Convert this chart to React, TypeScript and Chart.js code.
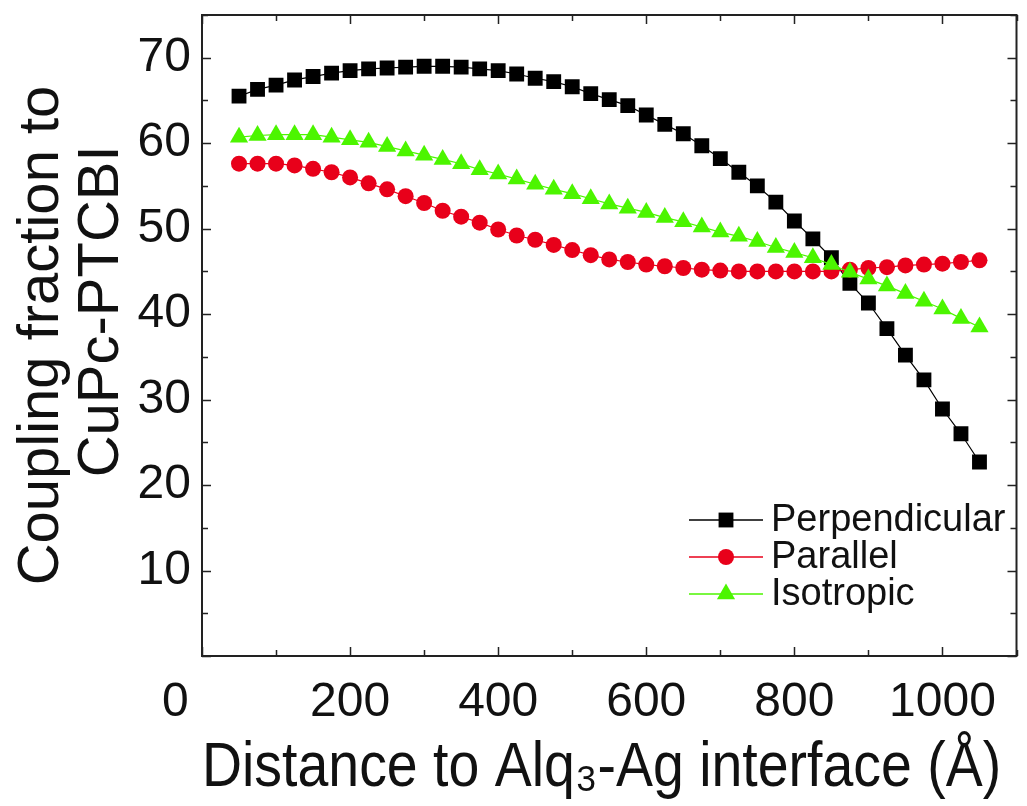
import { useEffect, useRef } from 'react';
import { Chart, registerables } from 'chart.js';

Chart.register(...registerables);

const FONT = "'Liberation Sans', Arial, Helvetica, sans-serif";

// Distance to Alq3-Ag interface (Å)
const distance = [
  50, 75, 100, 125, 150, 175, 200, 225, 250, 275,
  300, 325, 350, 375, 400, 425, 450, 475, 500, 525,
  550, 575, 600, 625, 650, 675, 700, 725, 750, 775,
  800, 825, 850, 875, 900, 925, 950, 975, 1000, 1025,
  1050,
];

const perpendicular = [
  65.5, 66.3, 66.8, 67.4, 67.8, 68.2, 68.5, 68.7, 68.8, 68.9,
  69.0, 69.0, 68.9, 68.7, 68.5, 68.1, 67.6, 67.2, 66.6, 65.8,
  65.1, 64.4, 63.3, 62.2, 61.1, 59.7, 58.2, 56.6, 55.0, 53.1,
  50.9, 48.8, 46.6, 43.6, 41.3, 38.3, 35.2, 32.3, 28.9, 26.0,
  22.7,
];

const parallel = [
  57.6, 57.6, 57.6, 57.4, 57.0, 56.6, 56.0, 55.3, 54.6, 53.8,
  53.0, 52.1, 51.4, 50.7, 49.9, 49.2, 48.7, 48.1, 47.5, 46.9,
  46.4, 46.1, 45.8, 45.6, 45.4, 45.2, 45.1, 45.0, 45.0, 45.0,
  45.0, 45.0, 45.0, 45.2, 45.4, 45.5, 45.7, 45.8, 45.9, 46.1,
  46.3,
];

const isotropic = [
  60.7, 60.9, 61.0, 61.0, 61.0, 60.7, 60.4, 60.1, 59.6, 59.1,
  58.6, 58.1, 57.6, 56.9, 56.4, 55.8, 55.2, 54.6, 54.1, 53.5,
  52.9, 52.4, 51.9, 51.3, 50.8, 50.2, 49.6, 49.1, 48.5, 47.8,
  47.2, 46.6, 45.8, 44.9, 44.1, 43.3, 42.4, 41.5, 40.6, 39.5,
  38.5,
];

const seriesNames = ['Perpendicular', 'Parallel', 'Isotropic'];
const seriesColors = ['#000000', '#e8001a', '#4cf500'];
const seriesShapes = ['rect', 'circle', 'triangle'];
const seriesRadius = [10.5, 8, 10.5];

const X_MIN = 0;
const X_MAX = 1100;
const X_MAJOR = 200;
const X_MINOR = 100;
const Y_MIN = 0;
const Y_MAX = 75;
const Y_MAJOR = 10;
const Y_MINOR = 5;

function drawMarker(ctx: CanvasRenderingContext2D, shape: string, x: number, y: number, r: number, color: string) {
  ctx.save();
  ctx.fillStyle = color;
  ctx.beginPath();
  if (shape === 'rect') {
    const s = Math.SQRT1_2 * r;
    ctx.rect(x - s, y - s, 2 * s, 2 * s);
  } else if (shape === 'circle') {
    ctx.arc(x, y, r, 0, Math.PI * 2);
  } else {
    const a = (2 * Math.PI) / 3;
    ctx.moveTo(x, y - r);
    ctx.lineTo(x + Math.sin(a) * r, y - Math.cos(a) * r);
    ctx.lineTo(x + Math.sin(2 * a) * r, y - Math.cos(2 * a) * r);
    ctx.closePath();
  }
  ctx.fill();
  ctx.restore();
}

const framePlugin = {
  id: 'frameTicks',
  afterDraw(chart: any) {
    const ctx = chart.ctx as CanvasRenderingContext2D;
    const { left, right, top, bottom } = chart.chartArea;
    const xs = chart.scales.x;
    const ys = chart.scales.y;
    ctx.save();
    ctx.strokeStyle = '#222';
    ctx.lineWidth = 2;
    ctx.strokeRect(left, top, right - left, bottom - top);
    ctx.lineWidth = 1.5;
    ctx.beginPath();
    for (let v = X_MIN; v <= X_MAX; v += X_MINOR) {
      const px = Math.round(xs.getPixelForValue(v)) + 0.5;
      const len = v % X_MAJOR === 0 ? 9 : 6;
      ctx.moveTo(px, bottom);
      ctx.lineTo(px, bottom - len);
      ctx.moveTo(px, top);
      ctx.lineTo(px, top + len);
    }
    for (let v = Y_MIN; v <= Y_MAX; v += Y_MINOR) {
      const py = Math.round(ys.getPixelForValue(v)) + 0.5;
      const len = v % Y_MAJOR === 0 ? 9 : 6;
      ctx.moveTo(left, py);
      ctx.lineTo(left + len, py);
      ctx.moveTo(right, py);
      ctx.lineTo(right - len, py);
    }
    ctx.stroke();

    // legend
    const rowsFromBottom = [136, 99, 62];
    ctx.font = `38px ${FONT}`;
    ctx.textBaseline = 'middle';
    ctx.textAlign = 'left';
    chart.data.datasets.forEach((ds: any, i: number) => {
      const y = bottom - rowsFromBottom[i];
      const x0 = left + 487;
      const x1 = left + 561;
      ctx.strokeStyle = seriesColors[i];
      ctx.lineWidth = 1.5;
      ctx.beginPath();
      ctx.moveTo(x0, y);
      ctx.lineTo(x1, y);
      ctx.stroke();
      drawMarker(ctx, seriesShapes[i], (x0 + x1) / 2, y, seriesRadius[i], seriesColors[i]);
      ctx.fillStyle = '#111';
      ctx.fillText(ds.label, x1 + 8, y + 1);
    });
    ctx.restore();
  },
};

export default function App() {
  const canvasRef = useRef<HTMLCanvasElement | null>(null);

  useEffect(() => {
    if (!canvasRef.current) return;
    const seriesValues = [perpendicular, parallel, isotropic];
    const chart = new Chart(canvasRef.current, {
      type: 'line',
      data: {
        datasets: seriesValues.map((vals, i) => ({
          label: seriesNames[i],
          data: distance.map((x, j) => ({ x, y: vals[j] })),
          borderColor: seriesColors[i],
          backgroundColor: seriesColors[i],
          borderWidth: 1.2,
          pointStyle: seriesShapes[i] as any,
          pointRadius: seriesRadius[i],
          pointBorderWidth: 0,
          pointBackgroundColor: seriesColors[i],
          tension: 0,
          order: 2 - i,
        })),
      },
      plugins: [framePlugin],
      options: {
        animation: false,
        responsive: true,
        maintainAspectRatio: false,
        layout: { padding: { top: 15, right: 3, left: 0, bottom: 0 } },
        plugins: {
          legend: { display: false },
          tooltip: { enabled: false },
        },
        scales: {
          x: {
            type: 'linear',
            min: X_MIN,
            max: X_MAX,
            grid: { display: false, drawTicks: false },
            border: { display: false },
            ticks: {
              stepSize: X_MAJOR,
              includeBounds: false,
              autoSkip: false,
              maxRotation: 0,
              padding: 18,
              color: '#111',
              font: { family: FONT, size: 48 },
              callback: (v: any) => (Number(v) === 0 ? '0    ' : String(v)),
            },
            title: {
              display: true,
              text: 'Distance to Alq₃-Ag interface (Å) ',
              color: '#111',
              font: { family: FONT, size: 63 },
              padding: { top: 0, bottom: 0 },
            },
            afterFit: (s: any) => {
              s.height = 150;
              s.paddingLeft = 0;
              s.paddingRight = 0;
            },
          },
          y: {
            type: 'linear',
            min: Y_MIN,
            max: Y_MAX,
            grid: { display: false, drawTicks: false },
            border: { display: false },
            ticks: {
              stepSize: Y_MAJOR,
              includeBounds: false,
              padding: 11,
              color: '#111',
              font: { family: FONT, size: 48 },
              callback: (v: any) => (Number(v) === 0 ? '' : String(v)),
            },
            title: {
              display: true,
              text: ['Coupling fraction to', '   CuPc-PTCBI'],
              color: '#111',
              font: { family: FONT, size: 58, lineHeight: 1.03 },
              padding: { top: 12, bottom: 0 },
            },
            afterFit: (s: any) => {
              s.width = 202;
              s.paddingTop = 0;
              s.paddingBottom = 0;
            },
          },
        },
      } as any,
    });
    return () => chart.destroy();
  }, []);

  return (
    <div style={{ position: 'absolute', left: 0, top: 0, width: 1027, height: 806, background: '#fff' }}>
      <canvas ref={canvasRef} />
    </div>
  );
}
